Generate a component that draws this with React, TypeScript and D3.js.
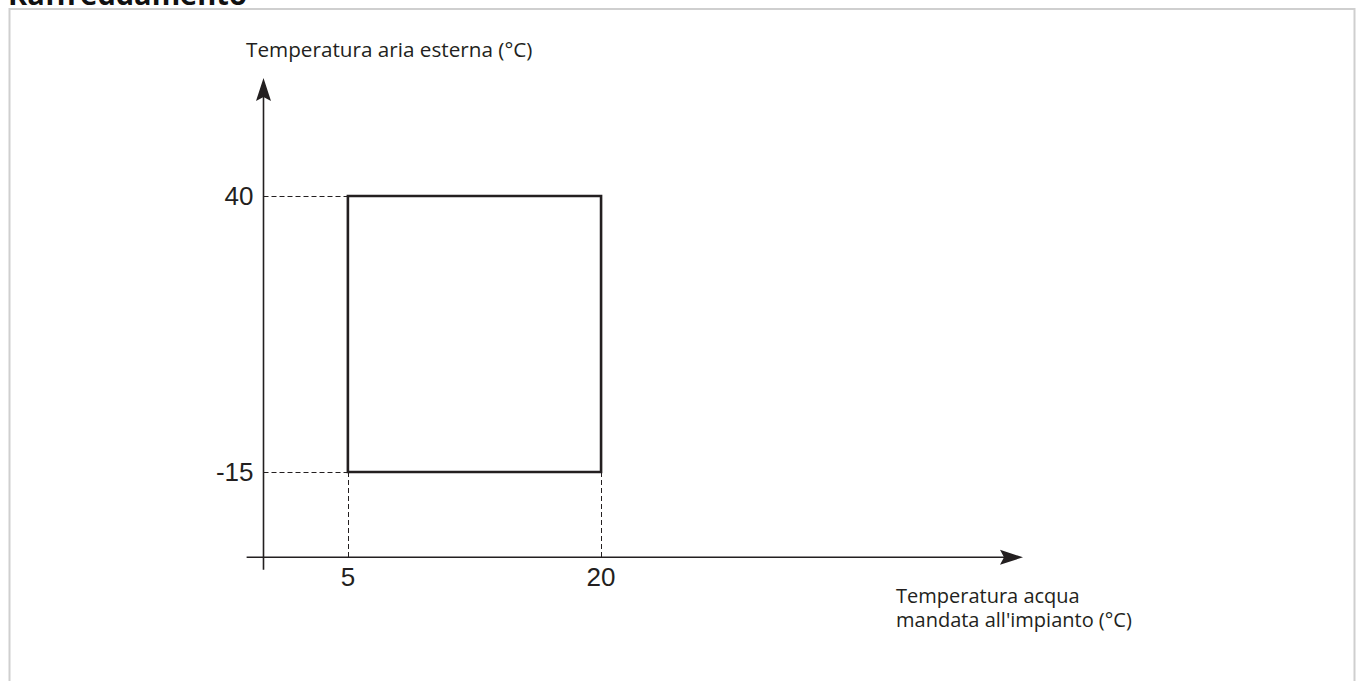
import React from "react";
import * as d3 from "d3";

const W = 1357;
const H = 681;

// Data
const xTicks: number[] = [5, 20];
const yTicks: number[] = [-15, 40];
const regionX: number[] = [5, 20];
const regionY: number[] = [-15, 40];
const xAxisExtent: number[] = [-1, 45];
const yAxisExtent: number[] = [-34.5, 63.5];
const xAxisAt = -32;
const title = "Raffreddamento";
const yTitle = "Temperatura aria esterna (°C)";
const xTitleLines: string[] = ["Temperatura acqua", "mandata all'impianto (°C)"];

const INK = "#231f20";

export default function App() {
  const x = d3.scaleLinear().domain([0, 45]).range([263.5, 1023]);
  const y = d3.scaleLinear().domain([-15, 40]).range([472, 196]);

  const x0 = x(0);
  const yAxisY = y(xAxisAt);
  const xEnd = x(xAxisExtent[1]);
  const yTop = y(yAxisExtent[1]);

  const rectPath = d3.line()([
    [x(regionX[0]), y(regionY[0])],
    [x(regionX[0]), y(regionY[1])],
    [x(regionX[1]), y(regionY[1])],
    [x(regionX[1]), y(regionY[0])],
    [x(regionX[0]), y(regionY[0])],
  ]) + "Z";

  const arrowLen = 23;
  const arrowHalf = 7.5;
  const notch = 4;
  const xArrow = `M${xEnd},${yAxisY} L${xEnd - arrowLen},${yAxisY - arrowHalf} L${xEnd - arrowLen + notch},${yAxisY} L${xEnd - arrowLen},${yAxisY + arrowHalf} Z`;
  const yArrow = `M${x0},${yTop} L${x0 - arrowHalf},${yTop + arrowLen} L${x0},${yTop + arrowLen - notch} L${x0 + arrowHalf},${yTop + arrowLen} Z`;

  const labelFont = "'Open Sans', sans-serif";
  const tickFont = "'Liberation Sans', Arial, sans-serif";
  const px = (v: number) => Math.round(v) + 0.5;

  return (
    <svg
      width={W}
      height={H}
      style={{ position: "absolute", left: 0, top: 0, background: "#fff" }}
    >
      {/* title (cut off at top) */}
      <text
        x={8}
        y={5}
        fontFamily="'Open Sans', sans-serif"
        fontWeight={700}
        fontSize={29}
        fill="#111"
      >
        {title}
      </text>
      {/* frame */}
      <path
        d={`M9.5,${H} L9.5,9 L1354.5,9 L1354.5,${H}`}
        fill="none"
        stroke="#cfcfcf"
        strokeWidth={2}
      />

      {/* dashed guide lines */}
      {yTicks.map((v) => (
        <line
          key={"hy" + v}
          x1={x0}
          x2={x(regionX[0])}
          y1={px(y(v))}
          y2={px(y(v))}
          stroke={INK}
          strokeWidth={1}
          strokeDasharray="5,3"
        />
      ))}
      {xTicks.map((v) => (
        <line
          key={"vx" + v}
          x1={px(x(v))}
          x2={px(x(v))}
          y1={y(regionY[0])}
          y2={yAxisY}
          stroke={INK}
          strokeWidth={1}
          strokeDasharray="5,3"
        />
      ))}

      {/* axes */}
      <line
        x1={x(xAxisExtent[0])}
        x2={xEnd - 10}
        y1={yAxisY}
        y2={yAxisY}
        stroke={INK}
        strokeWidth={1.6}
      />
      <line
        x1={x0}
        x2={x0}
        y1={y(yAxisExtent[0])}
        y2={yTop + 10}
        stroke={INK}
        strokeWidth={1.6}
      />
      <path d={xArrow} fill={INK} />
      <path d={yArrow} fill={INK} />

      {/* operating region */}
      <path d={rectPath} fill="none" stroke={INK} strokeWidth={2.6} strokeLinejoin="miter" />

      {/* tick labels */}
      {yTicks.map((v) => (
        <text
          key={"ty" + v}
          x={x0 - 10}
          y={y(v)}
          dy="0.36em"
          textAnchor="end"
          fontFamily={tickFont}
          fontSize={26}
          fill={INK}
        >
          {v}
        </text>
      ))}
      {xTicks.map((v) => (
        <text
          key={"tx" + v}
          x={x(v)}
          y={yAxisY + 29}
          textAnchor="middle"
          fontFamily={tickFont}
          fontSize={26}
          fill={INK}
        >
          {v}
        </text>
      ))}

      {/* axis titles */}
      <text x={246} y={57} fontFamily={labelFont} fontSize={20.7} fill={INK}>
        {yTitle}
      </text>
      <text fontFamily={labelFont} fontSize={20} fill={INK}>
        {xTitleLines.map((t, i) => (
          <tspan key={t} x={896} y={603 + i * 24}>
            {t}
          </tspan>
        ))}
      </text>
    </svg>
  );
}
